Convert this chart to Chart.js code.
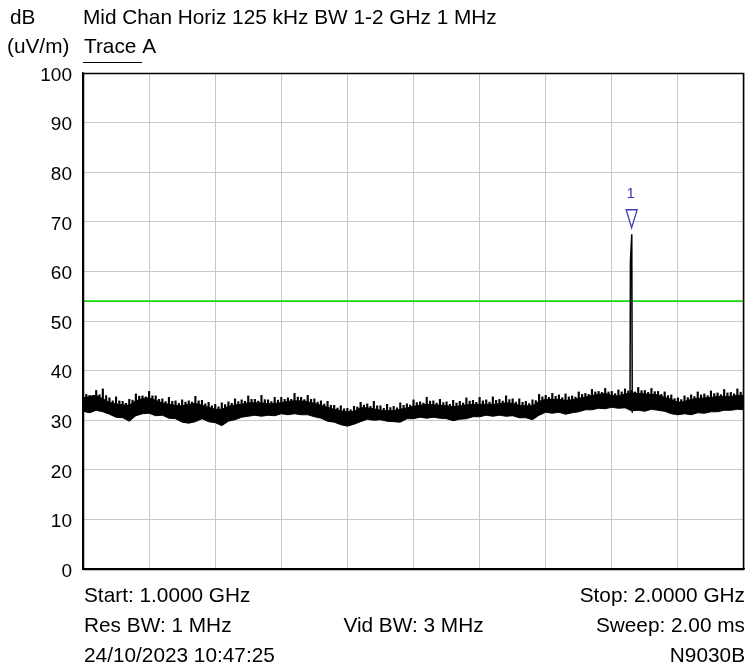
<!DOCTYPE html>
<html>
<head>
<meta charset="utf-8">
<script src="https://cdn.jsdelivr.net/npm/chart.js@4.4.0/dist/chart.umd.min.js"></script>
<style>
html,body{margin:0;padding:0;background:#fff;}
canvas{display:block;}
</style>
</head>
<body>
<canvas id="c" width="745" height="666"></canvas>
<script>
// ---- data ----
const startGHz = 1.0;
const stepGHz = 0.01;
const freqGHz = [];
for (let i = 0; i <= 100; i++) freqGHz.push(+(startGHz + i * stepGHz).toFixed(3));

// dense top edge of the noise band
const bandTopDb = [
  34.5,34.8,35.0,34.3,33.6,33.3,33.1,33.0,33.9,34.4,
  34.5,34.0,33.5,33.2,33.0,32.9,33.2,33.4,33.0,32.6,
  32.2,32.2,32.8,33.1,33.2,33.5,33.5,33.5,33.3,33.4,
  33.5,33.8,33.9,33.9,33.7,33.4,33.0,32.6,32.2,31.9,
  31.7,31.8,32.5,32.5,32.3,32.0,31.9,31.9,32.2,32.5,
  32.8,33.0,33.2,33.1,33.0,32.9,32.7,32.9,33.1,33.2,
  33.2,33.2,33.2,33.3,33.5,33.4,33.0,32.9,32.9,33.8,
  34.2,34.2,34.2,34.0,34.1,34.4,34.7,35.0,35.2,35.4,
  35.0,34.9,35.3,35.5,35.4,35.3,35.2,35.1,34.6,34.2,
  33.6,33.8,34.2,34.4,34.5,34.6,34.8,34.8,34.8,35.0,
  35.0
];
// peak noise needles above the band
const needleTopDb = [
  35.6,35.0,36.0,36.3,34.5,34.7,33.8,34.2,35.3,34.9,
  35.8,34.9,34.3,34.6,33.9,34.1,33.9,34.8,34.0,33.6,
  33.2,33.5,33.7,34.3,34.1,34.9,34.2,35.0,34.1,34.6,
  34.6,34.5,35.4,34.6,35.0,34.3,33.9,33.8,33.0,32.9,
  32.4,32.8,33.6,33.3,33.8,32.9,33.2,32.8,33.5,33.3,
  34.1,33.7,34.6,33.9,34.2,33.7,34.0,33.8,34.5,34.0,
  34.6,34.1,34.7,34.2,34.9,34.3,34.3,33.8,34.1,35.2,
  35.0,35.4,35.1,35.3,34.9,35.7,35.4,36.2,35.8,36.4,
  35.8,36.1,36.3,36.0,36.6,36.0,36.4,35.8,35.7,35.1,
  34.5,34.9,35.1,35.7,35.3,35.9,35.5,36.2,35.6,36.3,
  35.7
];
const traceLowerDb = [
  31.8,31.5,32.0,31.7,31.2,30.6,30.5,29.8,30.9,31.3,
  31.4,30.9,31.0,30.4,30.3,29.6,29.4,29.7,30.3,29.7,
  29.5,28.9,29.8,30.1,30.6,30.8,31.0,30.8,31.0,30.9,
  31.3,31.1,31.3,31.1,31.1,30.7,30.4,29.8,29.6,29.1,
  28.8,29.2,29.7,30.2,30.0,30.1,29.8,29.7,29.6,30.3,
  30.3,30.6,30.4,30.6,30.4,30.3,29.9,30.2,30.3,30.7,
  30.7,31.0,30.8,31.0,30.8,30.9,30.5,30.5,30.1,31.0,
  31.6,31.4,31.6,31.2,31.5,31.7,32.1,32.1,32.4,32.3,
  32.6,32.4,32.5,31.9,32.0,31.8,32.2,32.0,31.8,31.3,
  31.1,31.3,31.1,31.5,31.4,31.7,31.7,32.0,32.0,32.2,
  32.1
];
const spikeFreqGHz = [1.8275, 1.8282, 1.8302, 1.8310];
const spikeDb      = [32.0,   62.0,   67.5,   31.5];

const limitFreqGHz = [1.0, 2.0];
const limitDb      = [54, 54];

const markerFreqGHz = 1.8300;
const markerDb = 68.8;
const markerLabel = "1";

const yTicks = [0,10,20,30,40,50,60,70,80,90,100];

const titleUnit = "dB";
const titleText = "Mid Chan Horiz 125 kHz BW 1-2 GHz 1 MHz";
const unitText = "(uV/m)";
const traceText = "Trace A";
const footer = {
  startText: "Start: 1.0000 GHz", stopText: "Stop: 2.0000 GHz",
  resText: "Res BW: 1 MHz", vidText: "Vid BW: 3 MHz", sweepText: "Sweep: 2.00 ms",
  dateText: "24/10/2023 10:47:25", modelText: "N9030B"
};

// ---- build ----
const toXY = (xs, ys) => xs.map((x, i) => ({x: x, y: ys[i]}));
const FONT = "'Liberation Sans', Arial, sans-serif";

const overlay = {
  id: 'overlay',
  afterDraw(chart) {
    const ctx = chart.ctx, a = chart.chartArea;
    const xs = chart.scales.x, ys = chart.scales.y;
    ctx.save();
    // border
    ctx.strokeStyle = '#000'; ctx.lineWidth = 1.5;
    ctx.strokeRect(a.left + 0.5, a.top + 0.5, a.right - a.left - 1, a.bottom - a.top);
    // marker
    const mx = xs.getPixelForValue(markerFreqGHz), my = ys.getPixelForValue(markerDb);
    ctx.strokeStyle = '#4040b8'; ctx.lineWidth = 1.3;
    ctx.beginPath();
    ctx.moveTo(mx, my); ctx.lineTo(mx - 5.5, my - 18); ctx.lineTo(mx + 5.5, my - 18); ctx.closePath();
    ctx.fillStyle = '#fff'; ctx.fill(); ctx.stroke();
    ctx.fillStyle = '#3838a8'; ctx.font = '15px ' + FONT;
    ctx.textAlign = 'center'; ctx.textBaseline = 'alphabetic';
    ctx.fillText(markerLabel, mx - 1, my - 30);
    // texts
    ctx.fillStyle = '#000'; ctx.font = '20.8px ' + FONT;
    ctx.textAlign = 'left';
    ctx.fillText(titleUnit, 10, 24);
    ctx.fillText(titleText, a.left, 24);
    ctx.fillText(unitText, 7, 53);
    ctx.fillText(traceText, a.left + 1, 53);
    ctx.lineWidth = 1; ctx.strokeStyle = '#000';
    ctx.beginPath(); ctx.moveTo(a.left, 62.5); ctx.lineTo(a.left + 59, 62.5); ctx.stroke();
    ctx.fillText(footer.startText, a.left + 1, 602);
    ctx.fillText(footer.resText, a.left + 1, 632);
    ctx.fillText(footer.dateText, a.left + 1, 662);
    ctx.textAlign = 'right';
    ctx.fillText(footer.stopText, a.right + 1, 602);
    ctx.fillText(footer.sweepText, a.right + 1, 632);
    ctx.fillText(footer.modelText, a.right + 1, 662);
    ctx.textAlign = 'center';
    ctx.fillText(footer.vidText, (a.left + a.right) / 2, 632);
    ctx.restore();
  }
};

new Chart(document.getElementById('c'), {
  type: 'line',
  data: {
    datasets: [
      { data: toXY(freqGHz, bandTopDb), borderColor: '#000', borderWidth: 1,
        backgroundColor: '#000', fill: '+1', pointRadius: 0, tension: 0 },
      { data: toXY(freqGHz, traceLowerDb), borderColor: '#000', borderWidth: 1,
        backgroundColor: '#000', fill: false, pointRadius: 0, tension: 0 },
      { type: 'bar', data: freqGHz.map((f, i) => ({x: f, y: [bandTopDb[i] - 0.5, needleTopDb[i]]})),
        backgroundColor: '#000', borderWidth: 0, barThickness: 1.5, grouped: false },
      { type: 'bar', data: freqGHz.slice(0, -1).map((f, i) => ({x: f + stepGHz / 2,
          y: [bandTopDb[i] - 0.5, (needleTopDb[i] + bandTopDb[i + 1]) / 2]})),
        backgroundColor: '#000', borderWidth: 0, barThickness: 1.5, grouped: false },
      { data: toXY(spikeFreqGHz, spikeDb), borderColor: '#000', borderWidth: 1.5,
        fill: false, pointRadius: 0, tension: 0 },
      { data: toXY(limitFreqGHz, limitDb), borderColor: '#14d814', borderWidth: 1.6,
        fill: false, pointRadius: 0, tension: 0 }
    ]
  },
  options: {
    responsive: false,
    animation: false,
    events: [],
    layout: { padding: { left: 0, right: 1, top: 73, bottom: 97 } },
    plugins: { legend: { display: false }, title: { display: false }, tooltip: { enabled: false } },
    scales: {
      x: {
        type: 'linear', min: 1.0, max: 2.0, offset: false,
        ticks: { display: false, stepSize: 0.1 },
        grid: { color: '#c8c8c8', lineWidth: 1, drawTicks: false, offset: false },
        border: { color: '#000', width: 1.5 }
      },
      y: {
        min: 0, max: 100,
        afterBuildTicks: s => { s.ticks = yTicks.map(v => ({value: v})); },
        afterFit: s => { s.width = 83; },
        ticks: { color: '#000', font: { size: 19, family: FONT }, padding: 11, labelOffset: 2.5 },
        grid: { color: '#c8c8c8', lineWidth: 1, drawTicks: false },
        border: { color: '#000', width: 1.5 }
      }
    }
  },
  plugins: [overlay]
});
</script>
</body>
</html>
